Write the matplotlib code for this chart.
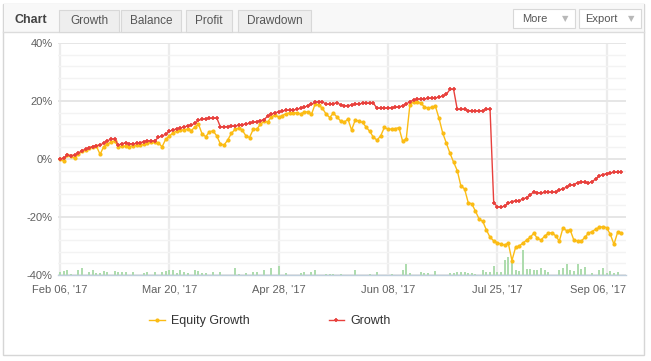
import numpy as np
import matplotlib
matplotlib.use("Agg")
import matplotlib.pyplot as plt
from matplotlib.patches import Rectangle
from matplotlib.transforms import ScaledTranslation

# ============ Data ============

# one point per trading day, index based x axis
growth = [
    0.0, 0.2, 1.4, 1.2, 1.3, 2.0, 2.9, 3.3, 3.9, 4.3,
    4.6, 4.8, 5.5, 6.3, 6.8, 7.0, 4.8, 5.3, 5.5, 5.3,
    5.2, 5.4, 5.6, 6.0, 6.3, 6.2, 6.2, 7.5, 7.9, 8.5,
    9.5, 10.0, 10.4, 10.7, 11.0, 11.4, 11.7, 12.3, 13.3, 13.7,
    13.9, 14.0, 14.0, 14.2, 11.1, 11.1, 11.2, 11.3, 11.4, 11.6,
    11.8, 12.1, 12.3, 12.6, 12.9, 13.2, 13.6, 14.8, 15.4, 16.0,
    16.2, 16.5, 16.8, 16.9, 16.9, 17.1, 17.5, 17.8, 18.4, 18.9,
    19.6, 19.8, 19.8, 18.8, 18.9, 19.1, 19.4, 18.7, 18.4, 18.4,
    18.6, 18.9, 19.0, 19.2, 19.2, 19.2, 19.2, 17.5, 17.5, 17.5,
    17.6, 17.7, 17.8, 18.0, 18.3, 18.9, 19.8, 20.3, 20.6, 20.7,
    20.7, 20.9, 21.0, 21.1, 21.3, 21.7, 22.3, 24.0, 24.0, 17.1,
    17.1, 17.1, 16.7, 16.6, 16.6, 16.6, 16.7, 17.1, 17.1, -15.1,
    -16.4, -16.7, -16.2, -15.2, -14.7, -14.4, -14.4, -13.8, -13.3, -12.4,
    -11.3, -11.6, -11.8, -11.5, -11.5, -11.5, -11.4, -10.6, -10.4, -9.6,
    -9.1, -8.8, -8.2, -7.9, -8.1, -8.3, -7.8, -6.9, -5.8, -5.4,
    -5.0, -4.8, -4.6, -4.5, -4.4,
]

equity_growth = [
    0.0, -0.7, 1.3, 0.9, 0.3, 1.6, 2.6, 3.2, 3.8, 4.2,
    4.4, 1.6, 4.3, 5.2, 5.8, 6.3, 4.2, 4.4, 4.4, 4.3,
    4.6, 4.7, 4.8, 5.1, 5.5, 5.7, 5.7, 5.6, 4.2, 6.8,
    7.9, 9.0, 9.6, 9.9, 10.1, 10.3, 9.8, 11.0, 12.0, 8.6,
    7.7, 9.4, 9.7, 8.0, 5.2, 4.8, 6.5, 8.8, 10.2, 10.6,
    10.0, 8.0, 7.4, 10.2, 10.3, 12.0, 13.0, 12.8, 14.5, 15.2,
    14.4, 15.0, 15.6, 15.9, 16.0, 15.8, 15.6, 16.1, 16.3, 15.4,
    18.9, 18.6, 17.5, 15.5, 14.3, 15.8, 14.5, 13.1, 12.6, 13.8,
    10.0, 13.4, 13.1, 12.6, 11.0, 9.5, 7.5, 6.5, 8.0, 10.9,
    10.3, 10.3, 10.5, 10.8, 6.2, 6.9, 18.6, 19.8, 19.6, 19.2,
    18.0, 17.5, 17.9, 18.2, 14.0, 9.0, 5.5, 2.0, -1.1, -4.0,
    -9.3, -10.3, -15.0, -15.5, -18.0, -20.7, -21.5, -24.5, -27.0, -28.2,
    -28.9, -29.3, -29.7, -29.0, -35.0, -30.5, -30.0, -29.0, -28.0, -27.0,
    -25.6, -27.4, -27.9, -26.6, -25.6, -25.4, -26.5, -28.3, -23.8, -24.7,
    -24.5, -28.0, -28.2, -28.4, -27.0, -25.6, -25.0, -24.2, -23.6, -23.3,
    -23.7, -26.0, -29.4, -25.3, -25.4,
]

# small green bars along the bottom, height above the -40% floor
volume = [
    0.9, 1.4, 1.7, 0.3, 0.0, 1.7, 2.3, 0.0, 1.1, 1.7,
    0.6, 0.6, 1.4, 1.1, 0.0, 1.4, 0.9, 0.9, 1.1, 0.0,
    1.1, 0.0, 0.0, 0.6, 0.9, 0.0, 0.9, 0.0, 1.1, 1.4,
    1.7, 1.7, 0.6, 1.7, 1.1, 0.6, 0.0, 1.7, 1.4, 0.6,
    0.6, 0.0, 0.9, 0.0, 0.9, 0.0, 0.0, 0.0, 2.3, 0.3,
    0.0, 0.6, 0.0, 0.9, 1.1, 0.0, 1.7, 0.0, 2.3, 0.0,
    3.2, 0.0, 0.6, 0.0, 0.0, 0.0, 0.6, 0.9, 0.0, 1.1,
    1.7, 0.0, 0.0, 0.3, 0.3, 0.3, 0.0, 0.3, 0.0, 0.0,
    0.0, 1.7, 0.0, 0.0, 0.0, 0.3, 0.0, 0.9, 0.0, 0.0,
    0.0, 0.3, 0.0, 0.0, 1.7, 3.7, 0.6, 0.0, 0.0, 1.2,
    0.6, 0.6, 0.0, 1.4, 0.0, 0.0, 0.0, 0.6, 0.8, 1.2,
    1.2, 1.0, 0.7, 0.6, 0.3, 0.0, 1.7, 1.0, 1.1, 3.2,
    0.9, 1.0, 5.2, 6.3, 4.0, 1.7, 1.4, 8.6, 2.1, 2.1,
    1.7, 1.7, 2.3, 1.7, 0.9, 0.0, 0.0, 1.7, 2.3, 3.8,
    1.7, 1.4, 3.7, 2.1, 2.9, 0.0, 0.6, 0.0, 1.7, 2.3,
    0.6, 1.4, 0.6, 0.9, 0.0,
]

tick_pos = [0, 30, 60, 90, 120, 150]
tick_labels = ["Feb 06, '17", "Mar 20, '17", "Apr 28, '17",
               "Jun 08, '17", "Jul 25, '17", "Sep 06, '17"]
y_ticks = [-40, -20, 0, 20, 40]

tabs = [("Growth", 59, 119), ("Balance", 121, 181),
        ("Profit", 186, 232), ("Drawdown", 238, 311)]
buttons = [("More", 513, 575), ("Export", 579, 641)]

W, H = 651, 361
RED = "#e8403c"
YELLOW = "#fbbc14"
GREEN = "#aedcae"
FONT = "Liberation Sans"


# ============ Utils ============

def fx(x):
    return x / W

def fy(y):
    return 1 - y / H

def _box(fig, x0, y0, x1, y1, fc, ec, lw=1.0, z=0):
    fig.patches.append(Rectangle((fx(x0), fy(y1)), fx(x1) - fx(x0), fy(y0) - fy(y1),
                                 transform=fig.transFigure, facecolor=fc,
                                 edgecolor=ec, linewidth=lw, zorder=z))


# ============ Figure ============

plt.rcParams["font.family"] = [FONT, "DejaVu Sans"]
fig = plt.figure(figsize=(W / 100, H / 100), dpi=100, facecolor="white")

# outer frame (behind the axes) + header strip
_box(fig, 3, 4, 644, 355, "none", "#d6d6d6", 1.0, z=-10)
_box(fig, 3.5, 4.5, 643.5, 32, "#f8f8f8", "none", 0, z=1)
fig.add_artist(plt.Line2D([fx(3), fx(644)], [fy(32), fy(32)], color="#dcdcdc",
                          lw=1.0, transform=fig.transFigure, zorder=2))
fig.text(fx(14), fy(20), "Chart", fontsize=9, fontweight="bold", color="#444444",
         va="center", ha="left")
for name, x0, x1 in tabs:
    _box(fig, x0, 10, x1, 32, "#eeeeee", "#d8d8d8", 0.8, z=3)
    fig.text(fx((x0 + x1) / 2), fy(21.5), name, fontsize=8.5, color="#555555",
             ha="center", va="center", zorder=4)
for name, x0, x1 in buttons:
    _box(fig, x0, 9, x1, 28, "white", "#d8d8d8", 0.8, z=3)
    fig.text(fx(x0 + 22), fy(18.5), name, fontsize=8,
             color="#555555", ha="center", va="center", zorder=4)
    fig.text(fx(x1 - 10), fy(18.5), "\u25bc", fontsize=6, color="#b8b8b8",
             ha="center", va="center", family="DejaVu Sans", zorder=4)

# plot area
ax = fig.add_axes([fx(58), fy(275), fx(626) - fx(58), fy(43) - fy(275)])
ax.set_facecolor("white")
x = np.arange(len(growth))

ax.bar(x, volume, bottom=-40, width=0.55, color=GREEN, linewidth=0, zorder=2)
ax.plot(x, equity_growth, color=YELLOW, lw=1.0, marker="o", ms=2.0,
        mec=YELLOW, mfc=YELLOW, label="Equity Growth", zorder=3)
ax.plot(x, growth, color=RED, lw=1.0, marker="+", ms=3.3, mew=1.2,
        label="Growth", zorder=4)

ax.set_xlim(-0.55, 155.3)
ax.set_ylim(-40, 40)

ax.set_yticks(y_ticks)
ax.set_yticklabels([f"{v}%" for v in y_ticks])
ax.set_yticks(np.arange(-40, 41, 4), minor=True)
ax.set_xticks(tick_pos)
ax.set_xticklabels(tick_labels)

ax.grid(True, axis="y", which="major", color="#e6e6e6", lw=1.4, zorder=0)
ax.grid(True, axis="y", which="minor", color="#f3f3f3", lw=1.0, zorder=0)
ax.grid(True, axis="x", which="major", color="#ececec", lw=1.6, zorder=0)
ax.set_axisbelow(True)

ax.tick_params(axis="both", which="both", length=0)
ax.tick_params(axis="y", pad=4, labelsize=8, labelcolor="#606060")
ax.tick_params(axis="x", pad=7, labelsize=8, labelcolor="#606060")

for side in ("top", "right", "left"):
    ax.spines[side].set_visible(False)
ax.spines["bottom"].set_color("#c0cfdc")
ax.spines["bottom"].set_linewidth(1.0)

# last date label sits flush with the plot's right edge
last = ax.get_xticklabels()[-1]
last.set_ha("right")
last.set_transform(last.get_transform() + ScaledTranslation(0.19, 0, fig.dpi_scale_trans))

handles, labels = ax.get_legend_handles_labels()
fig.legend(handles, labels, loc="center", bbox_to_anchor=(fx(270), fy(321)),
           ncol=2, frameon=False, fontsize=9, handlelength=1.25,
           handletextpad=0.5, columnspacing=6.3, labelcolor="#333333")

fig.savefig("out.png", dpi=100, facecolor="white")
